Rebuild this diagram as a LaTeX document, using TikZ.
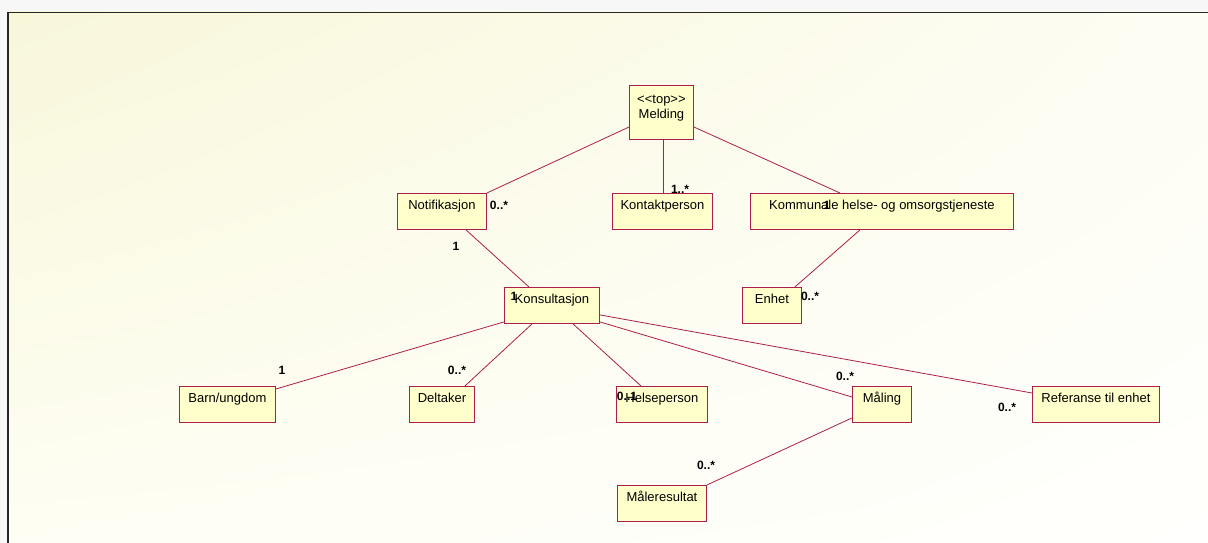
\documentclass[tikz,border=0pt]{standalone}
\usepackage{fontspec}
\setmainfont{Liberation Sans}
\usetikzlibrary{calc,shadings}
\definecolor{umlred}{RGB}{172,30,78}
\definecolor{umlfill}{RGB}{255,255,204}
\definecolor{outer}{RGB}{247,247,247}
\definecolor{bgA}{RGB}{248,247,218}
\definecolor{bgB}{RGB}{253,253,244}
\definecolor{bgC}{RGB}{254,254,244}
\definecolor{bgD}{RGB}{255,255,253}
\tikzset{
  clsbase/.style={draw=umlred, fill=umlfill, line width=0.9pt, anchor=north west,
    inner xsep=0pt, inner ysep=0pt, font=\fontsize{13}{15}\selectfont, align=center},
  cls/.style={clsbase, text height=16.5pt, text depth=19.5pt},
  assoc/.style={draw=umlred, line width=0.8pt},
  mult/.style={font=\fontsize{12}{14}\selectfont\bfseries, inner sep=0pt}
}
\begin{document}
\begin{tikzpicture}[x=1pt,y=-1pt]
\useasboundingbox (0,0) rectangle (1208,543);
\fill[outer] (0,0) rectangle (1208,543);
\shade[upper left=bgA, upper right=bgB, lower left=bgC, lower right=bgD] (8,12) rectangle (1208,543);
\draw[line width=1.3pt, black!85] (8,543) -- (8,12.3) -- (1208,12.3);

% classes
\node[clsbase, minimum width=64pt, minimum height=54pt] (mel) at (629,85)
  {\parbox[c][54pt][t]{64pt}{\centering\rule{0pt}{18pt}\mbox{<}\mbox{<}top\mbox{>}\mbox{>}\\Melding}};
\node[cls, minimum width=89pt] (not) at (397,193) {Notifikasjon};
\node[cls, minimum width=100pt] (kon) at (612,193) {Kontaktperson};
\node[cls, minimum width=263pt] (kom) at (750,193) {Kommunale helse- og omsorgstjeneste};
\node[cls, minimum width=95pt] (kons) at (504,287) {Konsultasjon};
\node[cls, minimum width=59pt] (enh) at (742,287) {Enhet};
\node[cls, minimum width=96pt] (barn) at (179,386) {Barn/ungdom};
\node[cls, minimum width=65pt] (del) at (409,386) {Deltaker};
\node[cls, minimum width=91pt] (hel) at (616,386) {Helseperson};
\node[cls, minimum width=59pt] (mal) at (852,386) {Måling};
\node[cls, minimum width=127pt] (ref) at (1032,386) {Referanse til enhet};
\node[cls, minimum width=89pt] (mre) at (617,485) {Måleresultat};

% associations
\draw[assoc] ([yshift=-42pt]mel.north west) -- (not.north east);
\draw[assoc] ([xshift=2pt]mel.south) -- ([xshift=2pt]mel.south |- kon.north);
\draw[assoc] ([yshift=-42pt]mel.north east) -- ([xshift=90pt]kom.north west);
\draw[assoc] ([xshift=69pt]not.south west) -- ([xshift=25pt]kons.north west);
\draw[assoc] ([xshift=110pt]kom.south west) -- ([xshift=-7pt]enh.north east);
\draw[assoc] ([yshift=2pt]kons.south west) -- ([yshift=-3pt]barn.north east);
\draw[assoc] ([xshift=28pt]kons.south west) -- ([xshift=-10pt]del.north east);
\draw[assoc] ([xshift=69pt]kons.south west) -- ([xshift=25pt]hel.north west);
\draw[assoc] ([yshift=2pt]kons.south east) -- ([yshift=-11pt]mal.north west);
\draw[assoc] ([yshift=9pt]kons.south east) -- ([yshift=-7pt]ref.north west);
\draw[assoc] ([yshift=5pt]mal.south west) -- (mre.north east);

% multiplicities
\node[mult] (m1) at (499,205) {0..*};
\node[mult] (m2) at (680,189) {1..*};
\node[mult] (m3) at (827,205) {1};
\node[mult] (m4) at (456,246) {1};
\node[mult] (m5) at (514,296) {1};
\node[mult] (m6) at (810,296) {0..*};
\node[mult] (m7) at (282,370) {1};
\node[mult] (m8) at (457,370) {0..*};
\node[mult] (m9) at (627,396) {0..1};
\node[mult] (m10) at (845,376) {0..*};
\node[mult] (m11) at (1007,407) {0..*};
\node[mult] (m12) at (706,465) {0..*};
\end{tikzpicture}
\end{document}
